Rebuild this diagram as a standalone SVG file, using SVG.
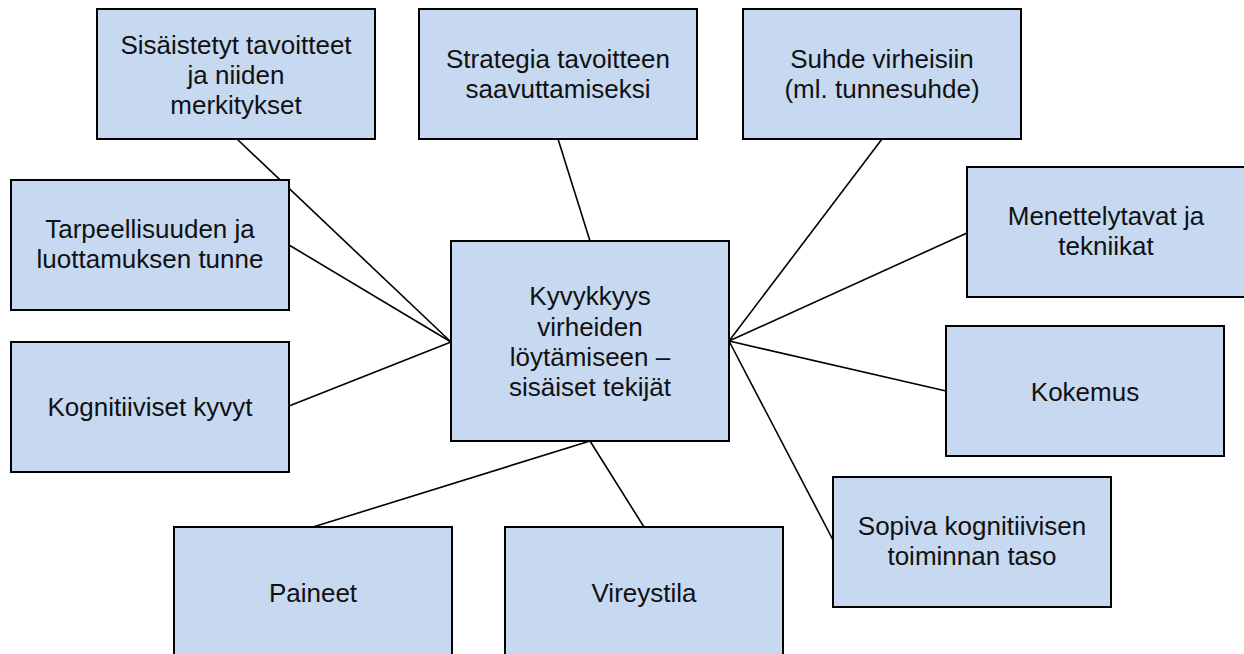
<svg xmlns="http://www.w3.org/2000/svg" width="1244" height="654" viewBox="0 0 1244 654">
<style>
.box{fill:#C6D9F1;stroke:#000;stroke-width:2}
.lbl{font-family:"Liberation Sans",Arial,sans-serif;font-size:26px;fill:#111;text-anchor:middle}
.con{stroke:#000;stroke-width:1.6;fill:none}
</style>
<rect width="1244" height="654" fill="#fff"/>
<g id="connectors">
<line class="con" x1="237" y1="139" x2="451" y2="342"/>
<line class="con" x1="289" y1="245" x2="451" y2="342"/>
<line class="con" x1="289" y1="406" x2="451" y2="342"/>
<line class="con" x1="558" y1="139" x2="590" y2="241"/>
<line class="con" x1="882" y1="139" x2="729" y2="341"/>
<line class="con" x1="967" y1="233" x2="729" y2="341"/>
<line class="con" x1="946" y1="391" x2="729" y2="341"/>
<line class="con" x1="833" y1="540" x2="729" y2="341"/>
<line class="con" x1="590" y1="441" x2="313" y2="527"/>
<line class="con" x1="590" y1="441" x2="644" y2="527"/>
</g>
<g id="n-sisaistetyt">
<rect class="box" x="97" y="9" width="278" height="130"/>
<text class="lbl" x="236" y="54">Sisäistetyt tavoitteet</text>
<text class="lbl" x="236" y="84">ja niiden</text>
<text class="lbl" x="236" y="114">merkitykset</text>
</g>
<g id="n-strategia">
<rect class="box" x="419" y="9" width="278" height="130"/>
<text class="lbl" x="558" y="68">Strategia tavoitteen</text>
<text class="lbl" x="558" y="98">saavuttamiseksi</text>
</g>
<g id="n-suhde">
<rect class="box" x="743" y="9" width="278" height="130"/>
<text class="lbl" x="882" y="68">Suhde virheisiin</text>
<text class="lbl" x="882" y="98">(ml. tunnesuhde)</text>
</g>
<g id="n-tarpeellisuus">
<rect class="box" x="11" y="180" width="278" height="130"/>
<text class="lbl" x="150" y="238">Tarpeellisuuden ja</text>
<text class="lbl" x="150" y="268">luottamuksen tunne</text>
</g>
<g id="n-kognitiiviset">
<rect class="box" x="11" y="342" width="278" height="130"/>
<text class="lbl" x="150" y="416">Kognitiiviset kyvyt</text>
</g>
<g id="n-center">
<rect class="box" x="451" y="241" width="278" height="200"/>
<text class="lbl" x="590" y="305">Kyvykkyys</text>
<text class="lbl" x="590" y="335.5">virheiden</text>
<text class="lbl" x="590" y="366">löytämiseen –</text>
<text class="lbl" x="590" y="396">sisäiset tekijät</text>
</g>
<g id="n-menettelytavat">
<rect class="box" x="967" y="167" width="278" height="130"/>
<text class="lbl" x="1106" y="225">Menettelytavat ja</text>
<text class="lbl" x="1106" y="255">tekniikat</text>
</g>
<g id="n-kokemus">
<rect class="box" x="946" y="326" width="278" height="130"/>
<text class="lbl" x="1085" y="401">Kokemus</text>
</g>
<g id="n-sopiva">
<rect class="box" x="833" y="477" width="278" height="130"/>
<text class="lbl" x="972" y="535">Sopiva kognitiivisen</text>
<text class="lbl" x="972" y="565">toiminnan taso</text>
</g>
<g id="n-paineet">
<rect class="box" x="174" y="527" width="278" height="130"/>
<text class="lbl" x="313" y="602">Paineet</text>
</g>
<g id="n-vireystila">
<rect class="box" x="505" y="527" width="278" height="130"/>
<text class="lbl" x="644" y="602">Vireystila</text>
</g>
</svg>
